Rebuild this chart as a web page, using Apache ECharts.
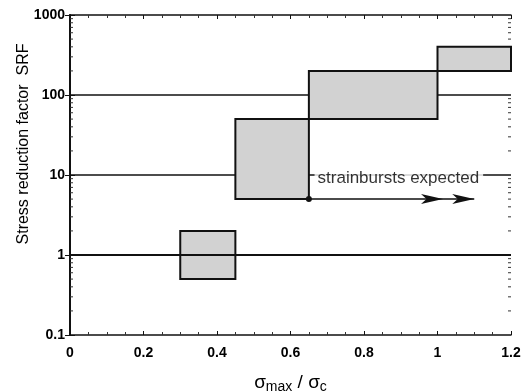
<!DOCTYPE html>
<html>
<head>
<meta charset="utf-8">
<script src="https://cdn.jsdelivr.net/npm/echarts@6/dist/echarts.min.js"></script>
<style>
  html, body { margin: 0; padding: 0; background: #fff; }
  #chart { width: 521px; height: 392px; }
</style>
</head>
<body>
<div id="chart"></div>
<script>
// SRF ranges (boxes): x from..to, SRF from..to
const boxX0 = [0.3, 0.45, 0.65, 1.0];
const boxX1 = [0.45, 0.65, 1.0, 1.2];
const boxY0 = [0.5, 5, 50, 200];
const boxY1 = [2, 50, 200, 400];

// horizontal reference levels
const levelsUnder = [10, 100];
const levelOver = 1;

// strainburst arrow
const arrowX = [0.65, 1.015, 1.1];
const arrowY = 5;
const noteText = 'strainbursts expected';

const xTicks = ['0', '0.2', '0.4', '0.6', '0.8', '1', '1.2'];
const yMinor = [];
[0.1, 1, 10, 100].forEach(d => {
  for (let k = 2; k <= 9; k++) yMinor.push(+(d * k).toPrecision(3));
});

const chart = echarts.init(document.getElementById('chart'), null, { renderer: 'canvas' });

const tickFont = { fontFamily: 'Liberation Sans', fontWeight: 'bold', fontSize: 14, color: '#000' };

const boxes = boxX0.map((x, i) => [x, boxX1[i], boxY0[i], boxY1[i]]);

const option = {
  animation: false,
  backgroundColor: '#fff',
  grid: { left: 70, right: 10, top: 15, bottom: 57, show: false, outerBoundsMode: 'none', containLabel: false },
  xAxis: [
    {
      type: 'value', min: 0, max: 1.2, interval: 0.2,
      axisLine: { lineStyle: { color: '#111', width: 1.5 } },
      axisTick: { inside: true, length: 4, lineStyle: { color: '#111' } },
      minorTick: { show: true, splitNumber: 4, length: 3, lineStyle: { color: '#333' } },
      splitLine: { show: false },
      axisLabel: Object.assign({ margin: 11, formatter: (v, i) => xTicks[i] }, tickFont),
      name: '{a|σ}{s|max}{a| / σ}{s|c}',
      nameLocation: 'middle', nameGap: 37, nameMoveOverlap: false,
      nameTextStyle: {
        rich: {
          a: { fontFamily: 'Liberation Sans', fontSize: 19, color: '#000', lineHeight: 22 },
          s: { fontFamily: 'Liberation Sans', fontSize: 14, color: '#000', padding: [9, 0, 0, 0], lineHeight: 22 }
        }
      }
    },
    {
      type: 'value', position: 'top', min: 0, max: 1.2, interval: 0.2,
      axisLine: { lineStyle: { color: '#111', width: 1.5 } },
      axisTick: { inside: true, length: 4, lineStyle: { color: '#111' } },
      minorTick: { show: true, splitNumber: 4, length: 3, lineStyle: { color: '#333' } },
      splitLine: { show: false },
      axisLabel: { show: false }
    }
  ],
  yAxis: [
    {
      type: 'log', logBase: 10, min: 0.1, max: 1000,
      axisLine: { show: true, lineStyle: { color: '#111', width: 1.5 } },
      axisTick: { show: true, inside: true, length: 5, lineStyle: { color: '#111' } },
      splitLine: { show: false },
      axisLabel: Object.assign({ margin: 5, formatter: v => (v < 1 ? '0.1' : String(Math.round(v))) }, tickFont),
      name: 'Stress reduction factor  SRF',
      nameLocation: 'middle', nameGap: 38, nameMoveOverlap: false,
      nameTextStyle: { fontFamily: 'Liberation Sans', fontSize: 16, color: '#000', padding: [0, 0, 0, 62] }
    },
    {
      type: 'log', logBase: 10, min: 0.1, max: 1000, position: 'right',
      axisLine: { show: true, lineStyle: { color: '#111', width: 2 } },
      axisTick: { show: true, inside: true, length: 5, lineStyle: { color: '#111' } },
      splitLine: { show: false },
      axisLabel: { show: false }
    }
  ],
  series: [
    // minor log ticks on left and right edges
    {
      type: 'custom', silent: true, z: 1,
      data: yMinor.map(v => [v]),
      renderItem: (params, api) => {
        const a = api.coord([0, api.value(0)]);
        const b = api.coord([1.2, api.value(0)]);
        return {
          type: 'group', children: [
            { type: 'line', shape: { x1: a[0], y1: a[1], x2: a[0] + 3, y2: a[1] }, style: { stroke: '#333', lineWidth: 1 } },
            { type: 'line', shape: { x1: b[0], y1: b[1], x2: b[0] - 3, y2: b[1] }, style: { stroke: '#333', lineWidth: 1 } }
          ]
        };
      },
      encode: { y: 0 }
    },
    // reference lines under boxes
    ...levelsUnder.map(lv => ({
      type: 'line', z: 2, symbol: 'none', silent: true,
      data: [[0, lv], [1.2, lv]],
      lineStyle: { color: '#111', width: 1.6 }
    })),
    // SRF boxes
    {
      type: 'custom', z: 3, silent: true,
      data: boxes,
      encode: { x: [0, 1], y: [2, 3] },
      renderItem: (params, api) => {
        const p0 = api.coord([api.value(0), api.value(3)]);
        const p1 = api.coord([api.value(1), api.value(2)]);
        return {
          type: 'rect',
          shape: { x: p0[0], y: p0[1], width: p1[0] - p0[0], height: p1[1] - p0[1] },
          style: { fill: '#d2d2d2', stroke: '#111', lineWidth: 2 }
        };
      }
    },
    // line at SRF = 1 drawn over the first box
    {
      type: 'line', z: 4, symbol: 'none', silent: true,
      data: [[0, levelOver], [1.2, levelOver]],
      lineStyle: { color: '#111', width: 2 }
    },
    // note text with white background over the 10 line
    {
      type: 'scatter', z: 5, silent: true, symbolSize: 0,
      data: [[0.66, 10]],
      label: {
        show: true, position: 'right', distance: 2, offset: [0, 3],
        formatter: noteText,
        fontFamily: 'Liberation Sans', fontSize: 17, color: '#000',
        backgroundColor: '#fff', padding: [2, 4, 2, 3]
      }
    },
    // arrow
    {
      type: 'line', z: 6, silent: true,
      data: arrowX.map((x, i) => ({
        value: [x, arrowY],
        symbol: i === 0 ? 'circle' : 'path://M0,0L24,6L0,12L6,6Z',
        symbolSize: i === 0 ? 6 : [22, 10],
        symbolOffset: i === 0 ? [0, 0] : [-11, 0]
      })),
      showSymbol: true,
      itemStyle: { color: '#111' },
      lineStyle: { color: '#111', width: 1.5 }
    }
  ]
};

chart.setOption(option);
</script>
</body>
</html>
